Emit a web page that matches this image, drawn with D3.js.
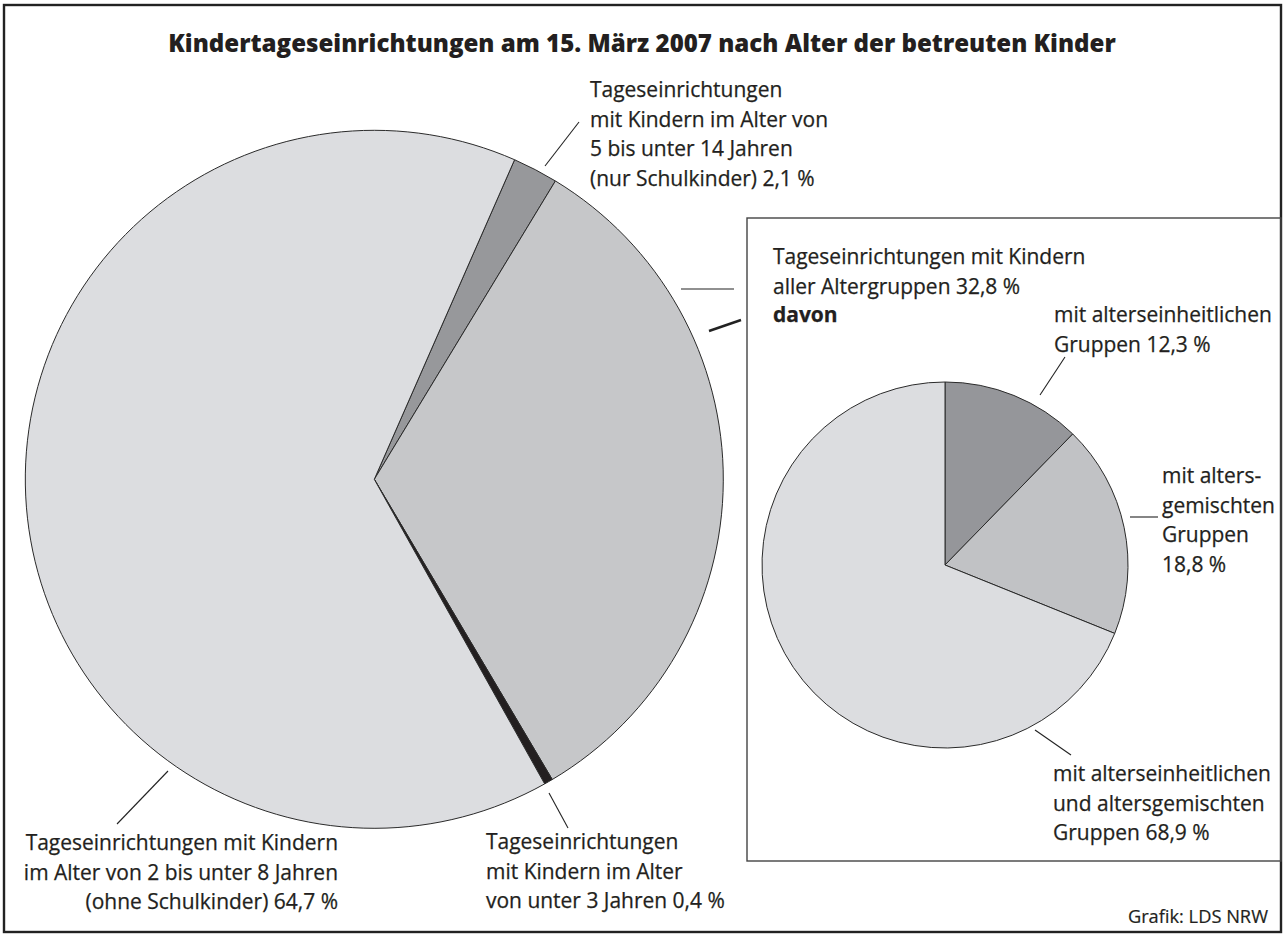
<!DOCTYPE html>
<html><head><meta charset="utf-8">
<script src="https://cdn.jsdelivr.net/npm/d3@7"></script>
<style>html,body{margin:0;padding:0;background:#fff;}svg{display:block;}</style>
</head><body>
<svg id="chart" width="1285" height="937"></svg>
<script>
// ---- data ----
const title = "Kindertageseinrichtungen am 15. März 2007 nach Alter der betreuten Kinder";
const mainCategories = ["5 bis unter 14 Jahren (nur Schulkinder)", "aller Altergruppen", "unter 3 Jahren", "2 bis unter 8 Jahren (ohne Schulkinder)"];
const mainValues = [2.1, 32.8, 0.4, 64.7];
const subCategories = ["alterseinheitliche Gruppen", "altersgemischte Gruppen", "alterseinheitliche und altersgemischte Gruppen"];
const subValues = [12.3, 18.8, 68.9];
const labelTop = ["Tageseinrichtungen", "mit Kindern im Alter von", "5 bis unter 14 Jahren", "(nur Schulkinder) 2,1 %"];
const labelAll = ["Tageseinrichtungen mit Kindern", "aller Altergruppen 32,8 %"];
const labelDavon = "davon";
const labelSub1 = ["mit alterseinheitlichen", "Gruppen 12,3 %"];
const labelSub2 = ["mit alters-", "gemischten", "Gruppen", "18,8 %"];
const labelSub3 = ["mit alterseinheitlichen", "und altersgemischten", "Gruppen 68,9 %"];
const labelLeft = ["Tageseinrichtungen mit Kindern", "im Alter von 2 bis unter 8 Jahren", "(ohne Schulkinder) 64,7 %"];
const labelBottom = ["Tageseinrichtungen", "mit Kindern im Alter", "von unter 3 Jahren 0,4 %"];
const source = "Grafik: LDS NRW";

// ---- layout / style ----
const W = 1285, H = 937;
const FONT = "'Open Sans', 'Noto Sans', sans-serif";
const TXT = "#231f20";
const mainColors = ["#97989b", "#c6c7c9", "#231f20", "#dcdde0"];
const subColors = ["#95969a", "#c1c2c5", "#dcdde0"];
const svg = d3.select("#chart");

function measure(str, size, weight) {
  const t = svg.append("text").attr("font-family", FONT).attr("font-size", size)
    .attr("font-weight", weight || "normal").text(str);
  const w = t.node().getComputedTextLength();
  t.remove();
  return w;
}
const fs = 100 * 218 / measure("mit alterseinheitlichen", 100);
const tfs = 100 * 948 / measure(title, 100, 800);
const LH = 29.6;

// frame
svg.append("rect").attr("x", 4).attr("y", 5).attr("width", 1277).attr("height", 927)
  .attr("fill", "none").attr("stroke", "#222").attr("stroke-width", 2.4);

// title
svg.append("text").attr("x", 642).attr("y", 52).attr("text-anchor", "middle")
  .attr("font-family", FONT).attr("font-weight", 800).attr("font-size", tfs)
  .attr("fill", TXT).text(title);

// inner box
svg.append("rect").attr("x", 747).attr("y", 218).attr("width", 534).attr("height", 643)
  .attr("fill", "none").attr("stroke", "#444").attr("stroke-width", 1.4);

// main pie
const mainCx = 374.3, mainCy = 479.3, mainR = 349;
const startMain = 23.7 * Math.PI / 180;
const pieMain = d3.pie().sort(null).value(d => d).startAngle(startMain).endAngle(startMain + 2 * Math.PI);
const arcMain = d3.arc().innerRadius(0).outerRadius(mainR);
svg.append("g").attr("transform", `translate(${mainCx},${mainCy})`)
  .selectAll("path").data(pieMain(mainValues)).join("path")
  .attr("d", arcMain).attr("fill", (d, i) => mainColors[i])
  .attr("stroke", "#2a2a2a").attr("stroke-width", 1).attr("stroke-linejoin", "round");

// sub pie
const subCx = 945, subCy = 565, subR = 183;
const pieSub = d3.pie().sort(null).value(d => d);
const arcSub = d3.arc().innerRadius(0).outerRadius(subR);
svg.append("g").attr("transform", `translate(${subCx},${subCy})`)
  .selectAll("path").data(pieSub(subValues)).join("path")
  .attr("d", arcSub).attr("fill", (d, i) => subColors[i])
  .attr("stroke", "#2a2a2a").attr("stroke-width", 1).attr("stroke-linejoin", "round");

// leader lines
const leaders = [
  [545, 166, 579, 122, 1.1],
  [681, 289, 734, 289, 1.1],
  [709, 331, 741, 320, 2.4],
  [1040, 395, 1065, 357, 1.1],
  [1130, 517, 1158, 517, 1.1],
  [1035, 730, 1071, 755, 1.1],
  [168, 771, 117, 824, 1.1],
  [549, 793, 568, 828, 1.1]
];
svg.append("g").selectAll("line").data(leaders).join("line")
  .attr("x1", d => d[0]).attr("y1", d => d[1]).attr("x2", d => d[2]).attr("y2", d => d[3])
  .attr("stroke", "#222").attr("stroke-width", d => d[4]);

// labels
function block(lines, x, y0, anchor, weight) {
  const t = svg.append("text").attr("font-family", FONT).attr("font-size", fs)
    .attr("fill", TXT).attr("stroke", TXT).attr("stroke-width", 0.25)
    .attr("text-anchor", anchor || "start").attr("font-weight", weight || "normal");
  lines.forEach((s, i) => t.append("tspan").attr("x", x).attr("y", y0 + i * LH).text(s));
}
block(labelTop, 590, 97);
block(labelAll, 773, 264);
block([labelDavon], 773, 322, "start", "bold");
block(labelSub1, 1054, 322);
block(labelSub2, 1162, 483);
block(labelSub3, 1053, 781);
block(labelLeft, 338, 850, "end");
block(labelBottom, 486, 849);
svg.append("text").attr("x", 1268).attr("y", 923).attr("text-anchor", "end")
  .attr("font-family", FONT).attr("font-size", fs * 0.87).attr("fill", TXT)
  .attr("stroke", TXT).attr("stroke-width", 0.2).text(source);
</script>
</body></html>
